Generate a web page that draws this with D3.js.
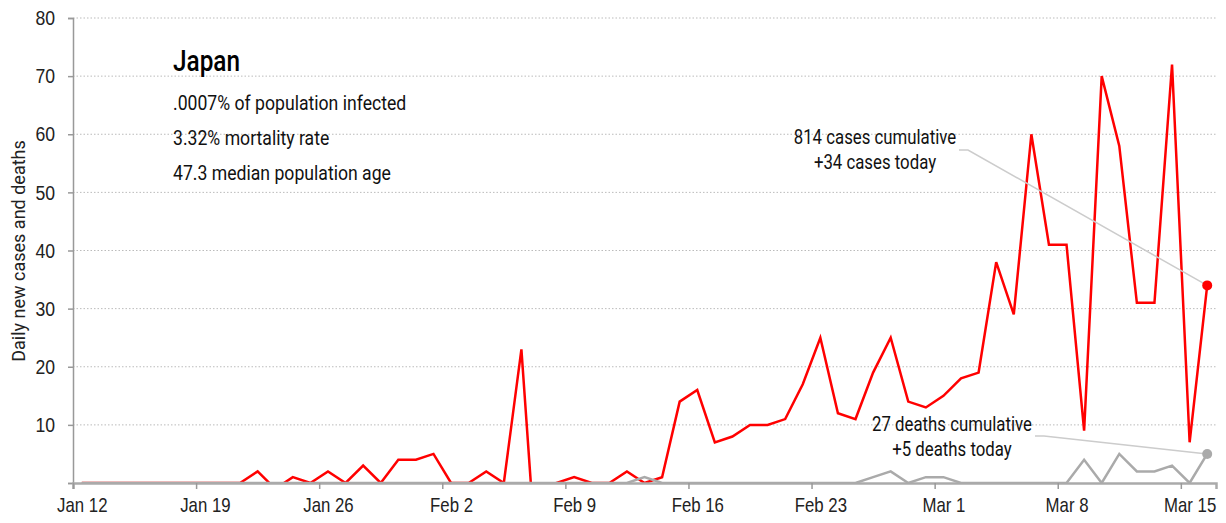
<!DOCTYPE html>
<html>
<head>
<meta charset="utf-8">
<script src="https://cdn.jsdelivr.net/npm/d3@7"></script>
<style>
  body { margin: 0; background: #fff; }
  svg { display: block; font-family: Roboto, "DejaVu Sans Condensed", sans-serif; }
</style>
</head>
<body>
<svg id="chart" width="1226" height="523"></svg>
<script>
// daily values, Jan 12 .. Mar 16 2020
const firstDay = "2020-01-12";
const lastDay = "2020-03-16";
const cases = [
  0, 0, 0, 0, 0, 0, 0, 0, 0, 0,
  2, -1, 1, 0, 2, 0, 3, 0, 4, 4,
  5, 0, 0, 2, 0, 23, -20, 0, 1, 0,
  0, 2, 0, 1, 14, 16, 7, 8, 10, 10,
  11, 17, 25, 12, 11, 19, 25, 14, 13, 15,
  18, 19, 38, 29, 60, 41, 41, 9, 70, 58,
  31, 31, 72, 7, 34
];
const deaths = [
  0, 0, 0, 0, 0, 0, 0, 0, 0, 0,
  0, 0, 0, 0, 0, 0, 0, 0, 0, 0,
  0, 0, 0, 0, 0, 0, 0, 0, 0, 0,
  0, 0, 1, 0, 0, 0, 0, 0, 0, 0,
  0, 0, 0, 0, 0, 1, 2, 0, 1, 1,
  0, 0, 0, 0, 0, 0, 0, 4, 0, 5,
  2, 2, 3, 0, 5
];
const weekTicks = ["2020-01-12", "2020-01-19", "2020-01-26", "2020-02-02", "2020-02-09",
  "2020-02-16", "2020-02-23", "2020-03-01", "2020-03-08", "2020-03-15"];
const yTicks = [0, 10, 20, 30, 40, 50, 60, 70, 80];
const infoLines = [".0007% of population infected", "3.32% mortality rate", "47.3 median population age"];
const casesNote = ["814 cases cumulative", "+34 cases today"];
const deathsNote = ["27 deaths cumulative", "+5 deaths today"];

const W = 1226, H = 523;
const margin = { top: 18, right: 10, bottom: 40, left: 73 };
const width = W - margin.left - margin.right;
const height = H - margin.top - margin.bottom;
const SX = 0.84; // squeeze text horizontally, the original uses a condensed face

const parse = d3.utcParse("%Y-%m-%d");
const days = d3.utcDay.range(parse(firstDay), d3.utcDay.offset(parse(lastDay), 1));
const noon = d => d3.utcHour.offset(d, 12);

const x = d3.scaleUtc()
  .domain([parse(firstDay), d3.utcDay.offset(parse(lastDay), 1)])
  .range([0, width]);
const y = d3.scaleLinear().domain([0, 80]).range([height, 0]);

// narrow a text around its own anchor point
function condense(sel, sx = SX) {
  sel.each(function () {
    const t = d3.select(this);
    const x0 = (+t.attr("x") || 0) + (+t.attr("dx") || 0);
    t.attr("transform", `translate(${x0 * (1 - sx)},0) scale(${sx},1)`);
  });
}

const svg = d3.select("#chart");
const g = svg.append("g").attr("transform", `translate(${margin.left},${margin.top})`);

// grid
g.append("g")
  .selectAll("line")
  .data(yTicks.filter(d => d > 0))
  .join("line")
  .attr("x1", 0).attr("x2", width)
  .attr("y1", d => y(d)).attr("y2", d => y(d))
  .attr("stroke", "#bbb")
  .attr("stroke-dasharray", "1.5,2");

// y axis
const yAxis = g.append("g")
  .call(d3.axisLeft(y).tickValues(yTicks).tickSize(5).tickPadding(13)
    .tickFormat(d => d === 0 ? "" : d));
yAxis.select(".domain").attr("stroke", "#999").attr("stroke-width", 1.5);
yAxis.selectAll(".tick line").attr("stroke", "#999").attr("stroke-width", 1.5);
yAxis.selectAll("text").attr("font-size", 21).attr("fill", "#222").call(condense);

svg.append("text")
  .attr("transform", `translate(25,251) rotate(-90)`)
  .attr("text-anchor", "middle")
  .attr("font-size", 18)
  .attr("fill", "#222")
  .text("Daily new cases and deaths");

// lines
g.append("clipPath").attr("id", "clip")
  .append("rect").attr("x", 0).attr("y", -5).attr("width", width).attr("height", height + 6);

const line = d3.line()
  .x((d, i) => x(noon(days[i])))
  .y(d => y(d));

const plot = g.append("g").attr("clip-path", "url(#clip)");
plot.append("path")
  .datum(cases)
  .attr("fill", "none")
  .attr("stroke", "#ff0000")
  .attr("stroke-width", 2.5)
  .attr("d", line);
plot.append("path")
  .datum(deaths)
  .attr("fill", "none")
  .attr("stroke", "#aaa")
  .attr("stroke-width", 2.5)
  .attr("d", line);

// x axis
const xAxis = g.append("g")
  .attr("transform", `translate(0,${height})`)
  .call(d3.axisBottom(x).tickValues(weekTicks.map(parse)).tickSize(6).tickPadding(9)
    .tickFormat(d3.utcFormat("%b %-d")));
xAxis.select(".domain").attr("stroke", "#aaa").attr("stroke-width", 2.5);
xAxis.selectAll(".tick line").attr("stroke", "#999").attr("stroke-width", 1.5);
xAxis.selectAll("text").attr("font-size", 20).attr("fill", "#222")
  .attr("dx", x(noon(parse(firstDay))) - x(parse(firstDay)))
  .call(condense);

// title block
g.append("text")
  .attr("x", 100).attr("y", 53)
  .attr("font-size", 29)
  .attr("font-weight", 500)
  .attr("fill", "#000")
  .text("Japan")
  .call(condense);
g.selectAll(".info")
  .data(infoLines)
  .join("text")
  .attr("class", "info")
  .attr("x", 100)
  .attr("y", (d, i) => 92 + i * 35)
  .attr("font-size", 21)
  .attr("fill", "#111")
  .text(d => d)
  .call(condense);

// end annotations
const lastIdx = cases.length - 1;
const lx = x(noon(days[lastIdx]));

function note(lines, value, tx, ty, lineStart, color) {
  g.append("text")
    .attr("x", tx).attr("y", ty)
    .attr("text-anchor", "middle")
    .attr("font-size", 20)
    .attr("fill", "#111")
    .call(condense)
    .selectAll("tspan")
    .data(lines)
    .join("tspan")
    .attr("x", tx)
    .attr("dy", (d, i) => i === 0 ? 0 : 25)
    .text(d => d);
  g.append("path")
    .attr("fill", "none")
    .attr("stroke", "#ccc")
    .attr("stroke-width", 1.5)
    .attr("d", d3.line()([[lineStart[0], lineStart[1]], [lineStart[0] + 9, lineStart[1]], [lx, y(value)]]));
  g.append("circle")
    .attr("cx", lx).attr("cy", y(value))
    .attr("r", 5)
    .attr("fill", color);
}
note(casesNote, cases[lastIdx], 802, 126, [886, 132], "#ff0000");
note(deathsNote, deaths[lastIdx], 879, 413, [962, 418], "#aaa");
</script>
</body>
</html>
